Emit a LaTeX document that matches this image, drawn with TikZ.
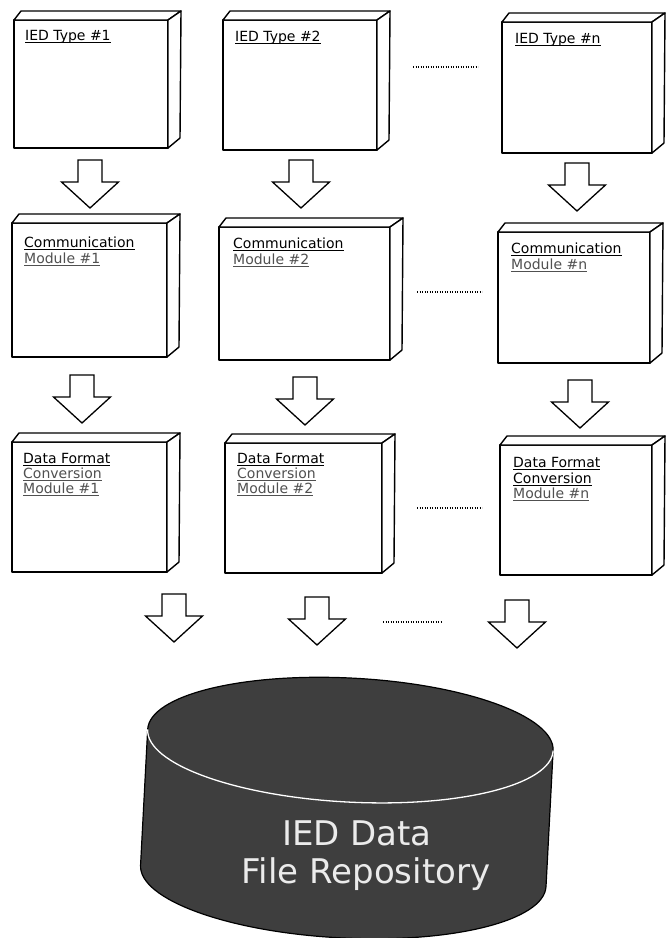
\documentclass[tikz,border=0pt]{standalone}
\usepackage{fontspec}
\setmainfont{DejaVu Sans}
\usetikzlibrary{calc}
\definecolor{cylfill}{RGB}{62,62,62}
\definecolor{sublbl}{RGB}{80,80,80}
\definecolor{cyltxt}{RGB}{235,235,235}
\newcommand\ulbl[1]{\leavevmode\setbox0\hbox{#1}\rlap{\rule[-2.4pt]{\wd0}{0.8pt}}\box0}
\newcommand\umlbox[5]{%
  \node[boxface, minimum width=#4pt, minimum height=#5pt, anchor=north west] (#1) at (#2,#3) {};
  \draw[boxline, fill=white] (#1.north west) -- ++(7,-9) -- ($(#1.north east)+(13,-9)$) -- (#1.north east) -- cycle;
  \draw[boxline, fill=white] (#1.north east) -- ($(#1.north east)+(13,-9)$) -- ($(#1.south east)+(12,-10)$) -- (#1.south east) -- cycle;
}
\tikzset{
  boxline/.style={draw=black, line width=1.4pt, line join=round},
  boxface/.style={boxline, fill=white, rectangle, inner sep=0pt, outer sep=0pt},
  lbl/.style={anchor=base west, inner sep=0pt, font=\fontsize{14}{15.5}\selectfont},
  lblsub/.style={lbl, text=sublbl},
  dotsline/.style={line width=1.4pt, dash pattern=on 1.3pt off 1.2pt},
  arrowline/.style={draw=black, line width=1.3pt, fill=white, line join=miter},
  blockarrow/.pic={\path[arrowline] (-12,0) -- (12,0) -- (12,22) -- (28.5,22) -- (0,48) -- (-28.5,22) -- (-12,22) -- cycle;},
  cyltext/.style={anchor=base, inner sep=0pt, text=cyltxt, font=\fontsize{34}{40}\selectfont},
}
\begin{document}
\begin{tikzpicture}[x=1pt,y=-1pt]
\useasboundingbox[fill=white] (0,0) rectangle (665,938);

% row 1
\umlbox{b11}{14}{20}{154}{128}
\umlbox{b12}{223}{20}{154}{130}
\umlbox{b1n}{502}{22}{150}{131}
\node[lbl] (l11) at (25,40) {\ulbl{IED Type \#1}};
\node[lbl] (l12) at (235,41) {\ulbl{IED Type \#2}};
\node[lbl] (l1n) at (515,43) {\ulbl{IED Type \#n}};

% row 2
\umlbox{b21}{12}{223}{155}{134}
\umlbox{b22}{219}{227}{171}{133}
\umlbox{b2n}{498}{232}{152}{131}
\node[lbl] (l21a) at (24,247) {\ulbl{Communication}};
\node[lblsub] (l21b) at (24,263) {\ulbl{Module \#1}};
\node[lbl] (l22a) at (233,248) {\ulbl{Communication}};
\node[lblsub] (l22b) at (233,264) {\ulbl{Module \#2}};
\node[lbl] (l2na) at (511,253) {\ulbl{Communication}};
\node[lblsub] (l2nb) at (511,269) {\ulbl{Module \#n}};

% row 3
\umlbox{b31}{12}{442}{155}{130}
\umlbox{b32}{225}{443}{157}{130}
\umlbox{b3n}{500}{445}{152}{130}
\node[lbl] (l31a) at (23,463) {\ulbl{Data Format}};
\node[lblsub] (l31b) at (23,478) {\ulbl{Conversion}};
\node[lblsub] (l31c) at (23,493) {\ulbl{Module \#1}};
\node[lbl] (l32a) at (237,463) {\ulbl{Data Format}};
\node[lblsub] (l32b) at (237,478) {\ulbl{Conversion}};
\node[lblsub] (l32c) at (237,493) {\ulbl{Module \#2}};
\node[lbl] (l3na) at (513,467) {\ulbl{Data Format}};
\node[lbl] (l3nb) at (513,483) {\ulbl{Conversion}};
\node[lblsub] (l3nc) at (513,498) {\ulbl{Module \#n}};

% ellipsis dots
\coordinate (d1a) at (413,67);  \coordinate (d1b) at (478,67);
\coordinate (d2a) at (417,292); \coordinate (d2b) at (482,292);
\coordinate (d3a) at (417,508); \coordinate (d3b) at (482,508);
\coordinate (d4a) at (383,622); \coordinate (d4b) at (442,622);
\draw[dotsline] (d1a) -- (d1b);
\draw[dotsline] (d2a) -- (d2b);
\draw[dotsline] (d3a) -- (d3b);
\draw[dotsline] (d4a) -- (d4b);

% block arrows
\pic (a11) at (90,160) {blockarrow};
\pic (a12) at (301,160) {blockarrow};
\pic (a1n) at (577,163) {blockarrow};
\pic (a21) at (82,375) {blockarrow};
\pic (a22) at (305,377) {blockarrow};
\pic (a2n) at (580,380) {blockarrow};
\pic (a31) at (174,594) {blockarrow};
\pic (a32) at (317,597) {blockarrow};
\pic (a3n) at (517,600) {blockarrow};

% repository cylinder
\begin{scope}[rotate around={-3:(347,805)}]
  \path[fill=cylfill, draw=black, line width=1.2pt]
    (144,740) -- (144,876) arc[start angle=180, end angle=0, x radius=203, y radius=62]
    -- (550,740) arc[start angle=0, end angle=-180, x radius=203, y radius=62] -- cycle;
  \draw[white, line width=1.3pt] (144,740) arc[start angle=180, end angle=0, x radius=203, y radius=62];
\end{scope}
\node[cyltext] (repo1) at (357,845) {IED Data};
\node[cyltext] (repo2) at (366,883) {File Repository};
\end{tikzpicture}
\end{document}
